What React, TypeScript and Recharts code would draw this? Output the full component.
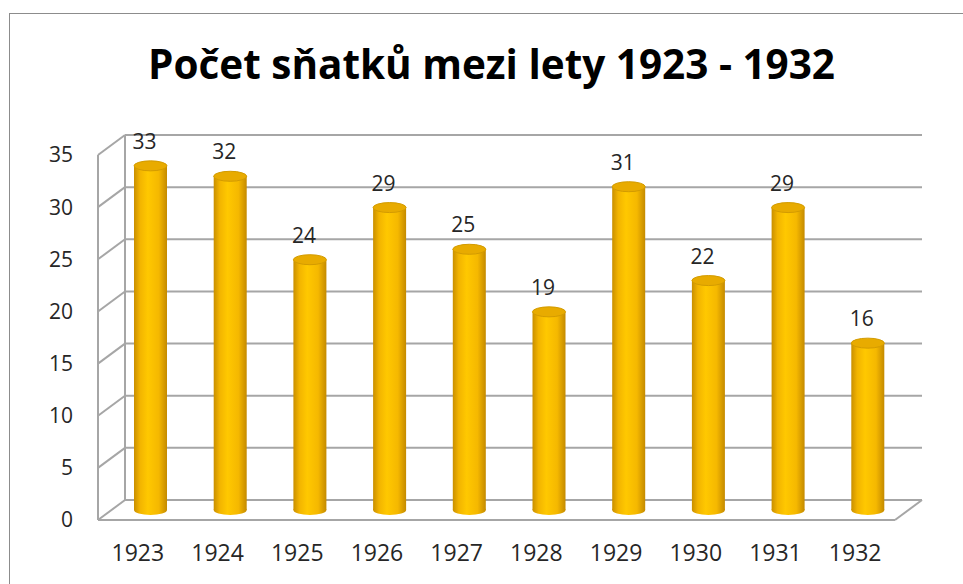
import React from 'react';
import { BarChart, Bar, XAxis, YAxis, CartesianGrid, LabelList } from 'recharts';

const years = ['1923', '1924', '1925', '1926', '1927', '1928', '1929', '1930', '1931', '1932'];
const marriages = [33, 32, 24, 29, 25, 19, 31, 22, 29, 16];
const yTicks = [0, 5, 10, 15, 20, 25, 30, 35];

const data = years.map((year, i) => ({ year, count: marriages[i] }));

// 3D depth of the "box": back wall is shifted right/up from the front plane
const DEPTH_X = 27;
const DEPTH_Y = -20;
const GRID = '#a6a6a6';
const FONT = '"Open Sans", sans-serif';

const GridLine = (props: any) => {
  const { x1, y1, x2, y, height, index } = props;
  const bottom = Math.abs(y1 - (y + height)) < 1;
  return (
    <g key={`g-${index}`}>
      <line x1={x1} y1={y1} x2={x1 + DEPTH_X} y2={y1 + DEPTH_Y} stroke={GRID} strokeWidth={2} />
      <line x1={x1 + DEPTH_X} y1={y1 + DEPTH_Y} x2={x2 + DEPTH_X} y2={y1 + DEPTH_Y} stroke={GRID} strokeWidth={2} />
      {index === 0 && (
        <line x1={x1 + DEPTH_X} y1={y + DEPTH_Y} x2={x1 + DEPTH_X} y2={y + height + DEPTH_Y} stroke={GRID} strokeWidth={2} />
      )}
      {bottom && <line x1={x2} y1={y1} x2={x2 + DEPTH_X} y2={y1 + DEPTH_Y} stroke={GRID} strokeWidth={2} />}
    </g>
  );
};

const Cylinder = (props: any) => {
  const { x, y, width, height, index } = props;
  const cx = x + width / 2 + 13;
  const top = y - 10;
  const bottom = y + height - 10;
  const rx = width / 2;
  const ry = 5;
  const id = `cyl-${index}`;
  return (
    <g>
      <defs>
        <linearGradient id={id} x1="0" y1="0" x2="1" y2="0">
          <stop offset="0%" stopColor="#c98f00" />
          <stop offset="18%" stopColor="#f2b400" />
          <stop offset="42%" stopColor="#ffc800" />
          <stop offset="75%" stopColor="#f5b800" />
          <stop offset="100%" stopColor="#c48a00" />
        </linearGradient>
      </defs>
      <ellipse cx={cx} cy={bottom} rx={rx} ry={ry} fill={`url(#${id})`} />
      <rect x={cx - rx} y={top} width={width} height={bottom - top} fill={`url(#${id})`} />
      <ellipse cx={cx} cy={top} rx={rx} ry={ry} fill="#e8ab00" stroke="#d39b00" strokeWidth={1} />
    </g>
  );
};

const ValueLabel = (props: any) => {
  const { x, y, width, value } = props;
  return (
    <text x={x + width / 2 + 7} y={y - 27} textAnchor="middle" fontFamily={FONT} fontSize={21} fill="#262626">
      {value}
    </text>
  );
};

export default function App() {
  return (
    <div style={{ position: 'absolute', left: 0, top: 0, width: 963, height: 584, background: '#fff', overflow: 'hidden' }}>
      <div style={{ position: 'absolute', left: 9, top: 13, right: 0, bottom: 0, borderTop: '1.5px solid #8c8c8c', borderLeft: '1.5px solid #8c8c8c' }} />
      <svg width={963} height={110} style={{ position: 'absolute', left: 0, top: 0 }}>
        <text x={148} y={79} fontFamily={FONT} fontWeight="bold" fontSize={42} fill="#000" textLength={687} lengthAdjust="spacingAndGlyphs">
          Počet sňatků mezi lety 1923 - 1932
        </text>
      </svg>
      <div style={{ position: 'absolute', left: 0, top: 0 }}>
        <BarChart width={963} height={584} data={data} margin={{ top: 155, right: 68, bottom: 24, left: 38 }} barSize={33}>
          <CartesianGrid vertical={false} horizontal={GridLine} />
          <XAxis
            dataKey="year"
            tickLine={false}
            tickSize={0}
            tickMargin={25}
            axisLine={{ stroke: GRID, strokeWidth: 2 }}
            tick={{ fill: '#262626', fontSize: 23, fontFamily: FONT }}
            height={40}
          />
          <YAxis
            domain={[0, 35]}
            ticks={yTicks}
            interval={0}
            tickLine={false}
            tickSize={0}
            tickMargin={25}
            axisLine={{ stroke: GRID, strokeWidth: 2 }}
            tick={{ fill: '#262626', fontSize: 21, fontFamily: FONT }}
            width={60}
          />
          <Bar dataKey="count" shape={<Cylinder />} isAnimationActive={false}>
            <LabelList dataKey="count" content={<ValueLabel />} />
          </Bar>
        </BarChart>
      </div>
    </div>
  );
}
